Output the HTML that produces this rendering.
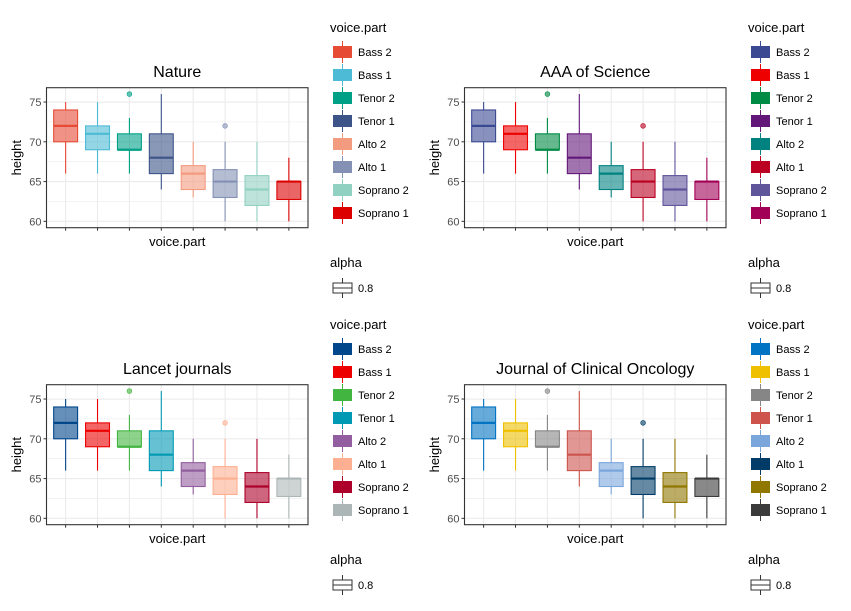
<!DOCTYPE html>
<html><head><meta charset="utf-8"><style>
body{margin:0;background:#fff;}
svg{display:block;font-family:"Liberation Sans",Arial,sans-serif;}
</style></head><body>
<svg id="c" width="851" height="611"></svg>
<script>
const categories=["Bass 2","Bass 1","Tenor 2","Tenor 1","Alto 2","Alto 1","Soprano 2","Soprano 1"];
const lowerWhisker=[66,66,66,64,63,60,60,60];
const q1Values=[70,69,69,66,64,63,62,62.75];
const medianValues=[72,71,69,68,66,65,64,65];
const q3Values=[74,72,71,71,67,66.5,65.75,65];
const upperWhisker=[75,75,73,76,70,70,70,68];
const outlierValues=[[],[],[76],[],[],[72],[],[]];
const yTicks=[60,65,70,75];
const panelTitles=["Nature","AAA of Science","Lancet journals","Journal of Clinical Oncology"];
const palettes=[
["#E64B35","#4DBBD5","#00A087","#3C5488","#F39B7F","#8491B4","#91D1C2","#DC0000"],
["#3B4992","#EE0000","#008B45","#631879","#008280","#BB0021","#5F559B","#A20056"],
["#00468B","#ED0000","#42B540","#0099B4","#925E9F","#FDAF91","#AD002A","#ADB6B6"],
["#0073C2","#EFC000","#868686","#CD534C","#7AA6DC","#003C67","#8F7700","#3B3B3B"]];
const svg=document.getElementById('c');
const NS="http://www.w3.org/2000/svg";
function mk(tag,attrs,parent,text){const e=document.createElementNS(NS,tag);for(const k in attrs)e.setAttribute(k,attrs[k]);if(text!==undefined)e.textContent=text;parent.appendChild(e);return e;}
const yMin=59.2,yMax=76.8;
function drawPanel(p,ox,oy){
  const g=mk('g',{},svg);
  
  
  const L=46.5+ox,R=308+ox,T=87.7+oy,B=227.7+oy;
  const sx=i=>L+(i+0.6)*(R-L)/8.2;
  const sy=v=>B-(v-yMin)/(yMax-yMin)*(B-T);
  const t=mk('text',{x:(L+R)/2,y:77+oy,'text-anchor':'middle','font-size':16,fill:'#000'},g,panelTitles[p]);
  
  
  for(let v=60;v<=77.5;v+=2.5){const y=sy(v);if(y<T||y>B)continue;mk('line',{x1:L,x2:R,y1:y,y2:y,stroke:'#EBEBEB','stroke-width':(v%5===0)?1.1:0.55},g);}
  categories.forEach((c,i)=>mk('line',{x1:sx(i),x2:sx(i),y1:T,y2:B,stroke:'#EBEBEB','stroke-width':1.1},g));
  const bw=0.75*(R-L)/8.2;
  categories.forEach((c,i)=>{
    const col=palettes[p][i];const x=sx(i);
    const bg=mk('g',{},g);
    
    
    mk('line',{x1:x,x2:x,y1:sy(upperWhisker[i]),y2:sy(q3Values[i]),stroke:col,'stroke-width':1.1},bg);
    mk('line',{x1:x,x2:x,y1:sy(q1Values[i]),y2:sy(lowerWhisker[i]),stroke:col,'stroke-width':1.1},bg);
    mk('rect',{x:x-bw/2,y:sy(q3Values[i]),width:bw,height:sy(q1Values[i])-sy(q3Values[i]),fill:col,'fill-opacity':0.6,stroke:col,'stroke-width':1.1},bg);
    mk('line',{x1:x-bw/2,x2:x+bw/2,y1:sy(medianValues[i]),y2:sy(medianValues[i]),stroke:col,'stroke-width':2.2},bg);
    outlierValues[i].forEach(o=>mk('circle',{cx:x,cy:sy(o),r:2.4,fill:col,'fill-opacity':0.6,stroke:col,'stroke-width':0.6},bg));
  });
  mk('rect',{x:L,y:T,width:R-L,height:B-T,fill:'none',stroke:'#333','stroke-width':1.1},g);
  yTicks.forEach(v=>{const y=sy(v);mk('line',{x1:L-3,x2:L,y1:y,y2:y,stroke:'#333'},g);
    const tl=mk('text',{x:L-5,y:y+4,'text-anchor':'end','font-size':11,fill:'#4D4D4D'},g,v);
    
    });
  categories.forEach((c,i)=>mk('line',{x1:sx(i),x2:sx(i),y1:B,y2:B+3,stroke:'#333'},g));
  const xt=mk('text',{x:(L+R)/2,y:246+oy,'text-anchor':'middle','font-size':13,fill:'#000'},g,'voice.part');
  
  
  const yt=mk('text',{x:0,y:0,transform:`translate(${21+ox},${(T+B)/2}) rotate(-90)`,'text-anchor':'middle','font-size':13,fill:'#000'},g,'height');
  
  
  const lx=330+ox;
  const lg=mk('g',{},g);
  
  
  mk('text',{x:lx,y:32+oy,'font-size':13,fill:'#000'},lg,'voice.part');
  categories.forEach((c,i)=>{const y=52+oy+i*23;const col=palettes[p][i];
    const e=mk('g',{},lg);
    
    
    mk('line',{x1:lx+12.5,x2:lx+12.5,y1:y-11,y2:y+11,stroke:col,'stroke-width':1},e);
    mk('rect',{x:lx+3,y:y-6,width:19,height:12,fill:col},e);
    mk('text',{x:lx+28,y:y+4,'font-size':11,fill:'#000'},e,c);});
  mk('text',{x:lx,y:267+oy,'font-size':13,fill:'#000'},lg,'alpha');
  const ay=288+oy;
  mk('line',{x1:lx+12.5,x2:lx+12.5,y1:ay-10,y2:ay+10,stroke:'#333'},lg);
  mk('rect',{x:lx+3,y:ay-5,width:19,height:10,fill:'#fff',stroke:'#333'},lg);
  mk('line',{x1:lx+3,x2:lx+22,y1:ay,y2:ay,stroke:'#333'},lg);
  mk('text',{x:lx+28,y:ay+4,'font-size':11,fill:'#000'},lg,'0.8');
}
drawPanel(0,0,0);drawPanel(1,418,0);drawPanel(2,0,297);drawPanel(3,418,297);
</script>
</body></html>
